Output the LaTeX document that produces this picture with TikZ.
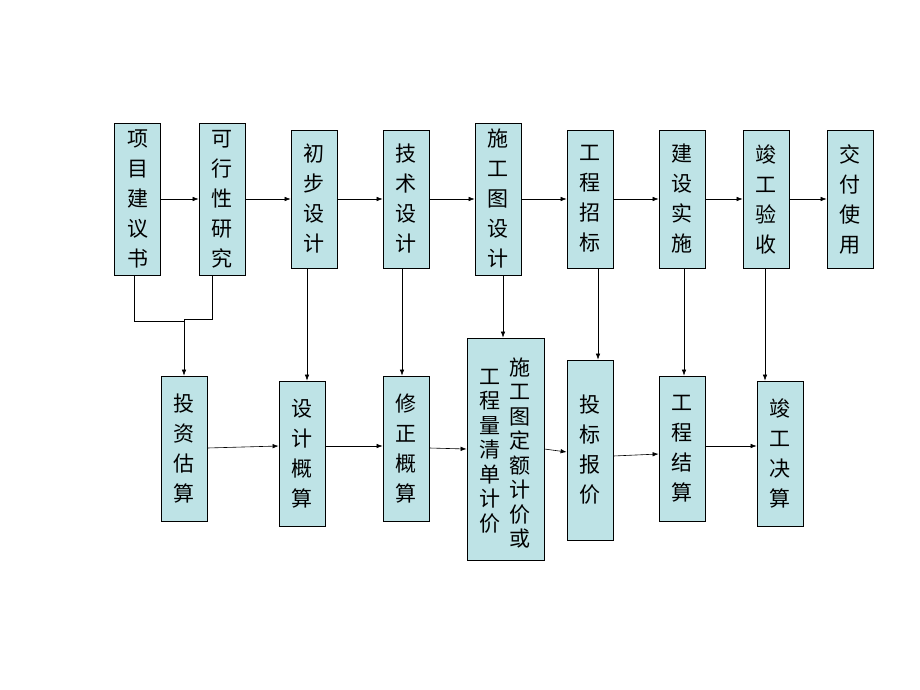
\documentclass[tikz,border=0pt]{standalone}
\usepackage{fontspec}
\newfontfamily\cjk{Noto Sans CJK SC}
\usetikzlibrary{arrows.meta}
\begin{document}
\begin{tikzpicture}[x=1pt,y=-1pt,
 box/.style={draw=black,fill=boxc,line width=0.8pt,minimum width=46pt,inner sep=0pt,align=center,font=\cjk\fontsize{21}{30}\selectfont},
 col/.style={inner sep=0pt,align=center,font=\cjk\fontsize{21}{24.5}\selectfont},
 arr/.style={-{Latex[length=6pt,width=4.5pt]},line width=0.6pt}]
\definecolor{boxc}{HTML}{BEE3E6}
\useasboundingbox (0,0) rectangle (920,690);
\fill[white] (0,0) rectangle (920,690);
% top row
\node[box,minimum height=152pt] (a1) at (137.5,199) {项\\目\\建\\议\\书};
\node[box,minimum height=152pt] (a2) at (222,199) {可\\行\\性\\研\\究};
\node[box,minimum height=138pt] (a3) at (314,199) {初\\步\\设\\计};
\node[box,minimum height=138pt] (a4) at (406,199) {技\\术\\设\\计};
\node[box,minimum height=152pt] (a5) at (498,199) {施\\工\\图\\设\\计};
\node[box,minimum height=138pt] (a6) at (590,199) {工\\程\\招\\标};
\node[box,minimum height=138pt] (a7) at (682,199) {建\\设\\实\\施};
\node[box,minimum height=138pt] (a8) at (766,199) {竣\\工\\验\\收};
\node[box,minimum height=138pt] (a9) at (850,199) {交\\付\\使\\用};
% bottom row
\node[box,minimum height=145pt] (b1) at (184,448.5) {投\\资\\估\\算};
\node[box,minimum height=145pt] (b2) at (302,453.5) {设\\计\\概\\算};
\node[box,minimum height=145pt] (b3) at (406,448.5) {修\\正\\概\\算};
\node[box,minimum width=77pt,minimum height=222pt] (b4) at (505.5,449) {};
\node[col] (b4r) at (520,453) {施\\工\\图\\定\\额\\计\\价\\或};
\node[col] (b4l) at (490,451) {工\\程\\量\\清\\单\\计\\价};
\node[box,minimum height=180pt] (b5) at (590,450) {投\\标\\报\\价};
\node[box,minimum height=145pt] (b6) at (682,448.5) {工\\程\\结\\算};
\node[box,minimum height=145pt] (b7) at (780,453.5) {竣\\工\\决\\算};
% top arrows
\foreach \i/\j in {a1/a2,a2/a3,a3/a4,a4/a5,a5/a6,a6/a7,a7/a8,a8/a9}
  \draw[arr] (\i.east) -- (\j.west);
% merge to b1
\coordinate (m1) at (134,321);
\coordinate (m2) at (212,319);
\draw[line width=0.6pt] (134,275) -- (m1) -- (184,321);
\draw[line width=0.6pt] (212,275) -- (m2) -- (184,319);
\draw[arr] (184,319) -- (b1.north);
% verticals
\draw[arr] (a3.south -| 307,0) -- (b2.north -| 307,0);
\draw[arr] (a4.south -| 402,0) -- (b3.north -| 402,0);
\draw[arr] (a5.south -| 503,0) -- (b4.north -| 503,0);
\draw[arr] (a6.south -| 598,0) -- (b5.north -| 598,0);
\draw[arr] (a7.south -| 684,0) -- (b6.north -| 684,0);
\draw[arr] (a8.south -| 765,0) -- (b7.north -| 765,0);
% bottom arrows
\draw[arr] (b1.east |- 0,448) -- (b2.west |- 0,446);
\draw[arr] (b2.east |- 0,446) -- (b3.west |- 0,446);
\draw[arr] (b3.east |- 0,448) -- (b4.west |- 0,449);
\draw[arr] (b4.east |- 0,449) -- (b5.west |- 0,452);
\draw[arr] (b5.east |- 0,456) -- (b6.west |- 0,454);
\draw[arr] (b6.east |- 0,446) -- (b7.west |- 0,446);
\end{tikzpicture}
\end{document}
